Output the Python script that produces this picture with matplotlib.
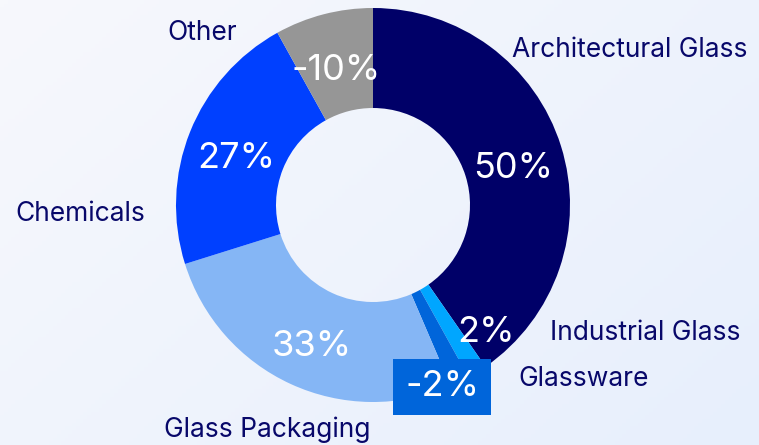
import numpy as np
import matplotlib
matplotlib.use("Agg")
import matplotlib.pyplot as plt
from matplotlib.colors import LinearSegmentedColormap

plt.rcParams['font.family'] = ['Inter', 'DejaVu Sans']

categories = ["Architectural Glass", "Industrial Glass", "Glassware",
              "Glass Packaging", "Chemicals", "Other"]
values = [50, 2, -2, 33, 27, -10]
pct_labels = ["50%", "2%", "-2%", "33%", "27%", "-10%"]
colors = ["#000068", "#00a6ff", "#0065da", "#85b6f5", "#0040ff", "#969696"]
text_color = "#08086a"

W, H = 759, 445
fig = plt.figure(figsize=(W / 100, H / 100), dpi=100)

# background gradient
bg = fig.add_axes([0, 0, 1, 1], zorder=0)
xx, yy = np.meshgrid(np.linspace(0, 1, 200), np.linspace(0, 1, 120))
grad = (xx * 0.6 + yy * 0.4)
cmap = LinearSegmentedColormap.from_list("bg", ["#f7f8fc", "#e7effc"])
bg.imshow(grad, cmap=cmap, aspect='auto', extent=[0, 1, 0, 1], origin='upper')
bg.axis('off')

ax = fig.add_axes([0, 0, 1, 1], zorder=1)
ax.patch.set_alpha(0)

cx, cy = 373, H - 205
R = 197
ring = 100

sizes = [abs(v) for v in values]
wedges, _ = ax.pie(sizes, colors=colors, startangle=90, counterclock=False,
                   center=(cx, cy), radius=R, frame=True,
                   wedgeprops=dict(width=ring, linewidth=0))
ax.set_xlim(0, W)
ax.set_ylim(0, H)
ax.set_aspect('equal')
ax.axis('off')

# percent labels on ring
rmid = R - ring / 2
pfs = 26
for i, w in enumerate(wedges):
    ang = np.deg2rad((w.theta1 + w.theta2) / 2)
    x = cx + rmid * np.cos(ang)
    y = cy + rmid * np.sin(ang) - 8
    if categories[i] == "Industrial Glass":
        ax.text(486, H - 333, pct_labels[i], color="white", fontsize=pfs,
                ha='center', va='center')
    elif categories[i] == "Glassware":
        ax.text(442, H - 387, pct_labels[i], color="white", fontsize=pfs,
                ha='center', va='center',
                bbox=dict(boxstyle="square,pad=0.33", fc=colors[i], ec='none'))
    else:
        ax.text(x, y, pct_labels[i], color="white", fontsize=pfs,
                ha='center', va='center')

# category labels
cat_pos = {
    "Architectural Glass": (512, 50, 'left'),
    "Industrial Glass": (550, 333, 'left'),
    "Glassware": (518, 379, 'left'),
    "Glass Packaging": (267, 430, 'center'),
    "Chemicals": (145, 214, 'right'),
    "Other": (237, 33, 'right'),
}
for c in categories:
    x, y, ha = cat_pos[c]
    ax.text(x, H - y, c, color=text_color, fontsize=19, ha=ha, va='center')

fig.savefig("out.png", dpi=100)
